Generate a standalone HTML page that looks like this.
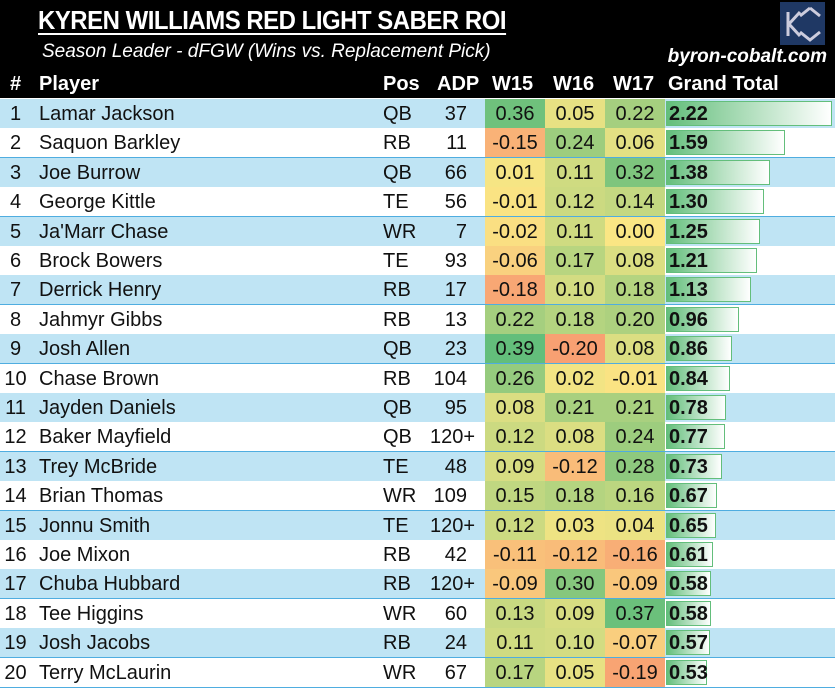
<!DOCTYPE html>
<html><head><meta charset="utf-8"><style>
body{margin:0;width:835px;height:687px;overflow:hidden;background:#fff;font-family:"Liberation Sans",sans-serif;}
#hd{position:absolute;left:0;top:0;width:835px;height:98px;background:#000;color:#fff;}
.t{position:absolute;white-space:nowrap}
.row{position:absolute;left:0;width:835px;height:29px;border-bottom:1.5px solid #4FADE0;font-size:20px;color:#111}
.row div{position:absolute;top:0;height:29px;line-height:30px;white-space:nowrap}
</style></head><body>
<div id="hd">
<div class="t" style="left:38px;top:5px;font-size:26px;font-weight:bold;text-decoration:underline;text-decoration-thickness:2px;text-underline-offset:4px;letter-spacing:-0.5px;transform:scaleX(0.92);transform-origin:left">KYREN WILLIAMS RED LIGHT SABER ROI</div>
<div class="t" style="left:42px;top:41px;font-size:19px;font-style:italic">Season Leader - dFGW (Wins vs. Replacement Pick)</div>
<div class="t" style="right:8px;top:46px;font-size:19px;font-weight:bold;font-style:italic">byron-cobalt.com</div>
<div class="t" style="left:780px;top:2px;width:45px;height:43px;background:#1F3864">
<svg width="45" height="43"><path d="M8 10 V34 M9 22 L20 10 M9 22 L20 34 M30 6 L20 14 M30 6 L40 14 M20 30 L30 38 L40 30" stroke="#ccd" stroke-width="3" fill="none"/></svg></div>
<div class="t" style="left:10px;top:73px;font-size:20px;font-weight:bold">#</div>
<div class="t" style="left:39px;top:73px;font-size:20px;font-weight:bold">Player</div>
<div class="t" style="left:383px;top:73px;font-size:20px;font-weight:bold">Pos</div>
<div class="t" style="left:437px;top:73px;font-size:20px;font-weight:bold">ADP</div>
<div class="t" style="left:492px;top:73px;font-size:20px;font-weight:bold">W15</div>
<div class="t" style="left:553px;top:73px;font-size:20px;font-weight:bold">W16</div>
<div class="t" style="left:613px;top:73px;font-size:20px;font-weight:bold">W17</div>
<div class="t" style="left:668px;top:73px;font-size:20px;font-weight:bold">Grand Total</div>
</div>
<div id="rows"></div>
<script>
const d=[["Lamar Jackson","QB","37",.36,.05,.22,2.22],["Saquon Barkley","RB","11",-.15,.24,.06,1.59],["Joe Burrow","QB","66",.01,.11,.32,1.38],["George Kittle","TE","56",-.01,.12,.14,1.30],["Ja'Marr Chase","WR","7",-.02,.11,0,1.25],["Brock Bowers","TE","93",-.06,.17,.08,1.21],["Derrick Henry","RB","17",-.18,.10,.18,1.13],["Jahmyr Gibbs","RB","13",.22,.18,.20,.96],["Josh Allen","QB","23",.39,-.20,.08,.86],["Chase Brown","RB","104",.26,.02,-.01,.84],["Jayden Daniels","QB","95",.08,.21,.21,.78],["Baker Mayfield","QB","120+",.12,.08,.24,.77],["Trey McBride","TE","48",.09,-.12,.28,.73],["Brian Thomas","WR","109",.15,.18,.16,.67],["Jonnu Smith","TE","120+",.12,.03,.04,.65],["Joe Mixon","RB","42",-.11,-.12,-.16,.61],["Chuba Hubbard","RB","120+",-.09,.30,-.09,.58],["Tee Higgins","WR","60",.13,.09,.37,.58],["Josh Jacobs","RB","24",.11,.10,-.07,.57],["Terry McLaurin","WR","67",.17,.05,-.19,.53]];
function mix(a,b,t){return 'rgb('+a.map((v,i)=>Math.round(v+(b[i]-v)*t)).join(',')+')'}
const R=[248,160,114],Y=[250,230,132],G=[99,190,123];
function col(v){return v<0?mix(Y,R,Math.min(1,-v/.2)):mix(Y,G,Math.min(1,v/.39))}
let h='';
d.forEach((r,i)=>{const top=99+i*29.4;const bg=i%2==0?'#BFE4F4':'#fff';const w=164*r[6]/2.22;
h+=`<div class="row" style="top:${top}px;background:${bg}">
<div style="left:0;width:31px;text-align:center">${i+1}</div>
<div style="left:39px">${r[0]}</div>
<div style="left:383px">${r[1]}</div>
<div style="left:430px;width:37px;text-align:right">${r[2]}</div>
${[3,4,5].map((k,j)=>`<div style="left:${485+j*60}px;width:60px;text-align:center;background:${col(r[k])}">${r[k].toFixed(2)}</div>`).join('')}
<div style="left:666px;top:2px;height:23px;width:${w}px;border:1.5px solid #63BE7B;background:linear-gradient(90deg,#63BE7B,#fff)"></div>
<div style="left:669px;font-weight:bold">${r[6].toFixed(2)}</div></div>`});
document.getElementById('rows').innerHTML=h;
</script>
</body></html>
